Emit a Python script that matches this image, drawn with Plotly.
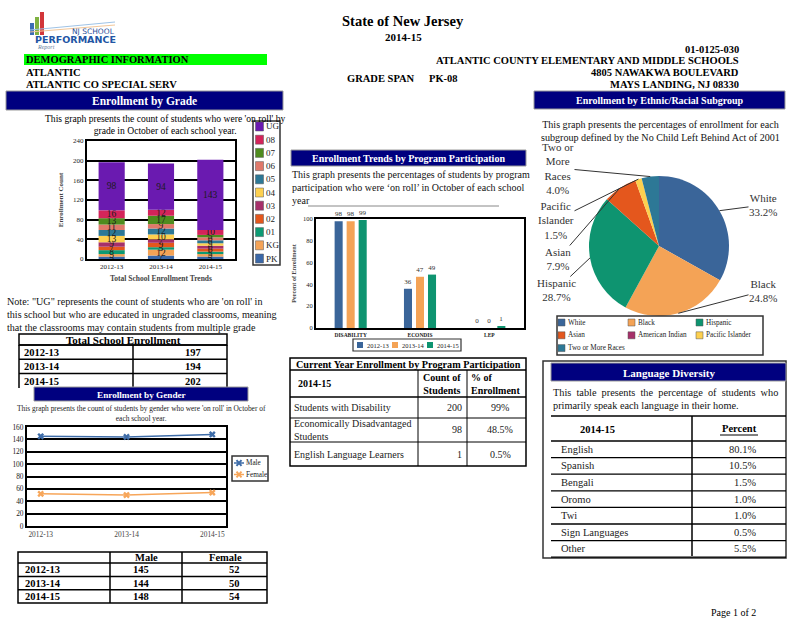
import plotly.graph_objects as go
import numpy as np

W, H = 800, 618
SERIF = "Liberation Serif"
NAVY = "#00007F"

# ---------------- data ----------------
years = ["2012-13", "2013-14", "2014-15"]

grade_names = ["PK", "KG", "01", "02", "03", "04", "05", "06", "07", "08", "UG"]
grade_colors = ["#3B68A8", "#F4A356", "#0E9A73", "#E4571D", "#A6306A", "#FDD04F",
                "#2D7896", "#E0796A", "#4F8B1E", "#D4245A", "#6A1AB0"]
pk = [5, 7, 5]
kg = [5, 12, 5]
g01 = [8, 5, 5]
g02 = [7, 9, 6]
g03 = [9, 7, 6]
g04 = [13, 10, 5]
g05 = [12, 12, 6]
g06 = [11, 9, 6]
g07 = [13, 17, 5]
g08 = [16, 12, 10]
ug = [98, 94, 143]

total_enrollment = [197, 194, 202]

programs = ["DISABILITY", "ECONDIS", "LEP"]
prog_2012 = [98, 36, 0]
prog_2013 = [98, 47, 0]
prog_2014 = [99, 49, 1]
year_colors = ["#3A6599", "#F4A356", "#0E9470"]

male = [145, 144, 148]
female = [52, 50, 54]
gender_names = ["Male", "Female"]
gender_colors = ["#3E6CA8", "#F7A65A"]

ethnic_labels = ["White", "Black", "Hispanic", "Asian", "American Indian",
                 "Pacific Islander", "Two or More Races"]
ethnic_pct = [33.2, 24.8, 28.7, 7.9, 0.0, 1.5, 4.0]
ethnic_colors = ["#3A6599", "#F4A356", "#0E9470", "#E4571D", "#A6306A", "#FDD04F", "#2D7896"]
ethnic_label_text = ["White", "Black", "Hispanic", "Asian", "",
                     "Pacific<br>Islander", "Two or<br>More<br>Races"]

program_rows = ["Students with Disability", "Economically Disadvantaged<br>Students",
                "English Language Learners"]
program_counts = [200, 98, 1]
program_pcts = ["99%", "48.5%", "0.5%"]

languages = ["English", "Spanish", "Bengali", "Oromo", "Twi", "Sign Languages", "Other"]
language_pcts = ["80.1%", "10.5%", "1.5%", "1.0%", "1.0%", "0.5%", "5.5%"]

# ---------------- helpers ----------------
shapes = []
annotations = []


def X(p):
    return p / W


def Y(p):
    return 1 - p / H


def rect(x0, y0, x1, y1, fill=None, line_color=None, lw=0, layer="above"):
    shapes.append(dict(type="rect", xref="paper", yref="paper",
                       x0=X(x0), x1=X(x1), y0=Y(y1), y1=Y(y0),
                       fillcolor=fill if fill else "rgba(0,0,0,0)",
                       line=dict(color=line_color or "rgba(0,0,0,0)", width=lw),
                       layer=layer))


def line(x0, y0, x1, y1, color="black", lw=1.5):
    shapes.append(dict(type="line", xref="paper", yref="paper",
                       x0=X(x0), y0=Y(y0), x1=X(x1), y1=Y(y1),
                       line=dict(color=color, width=lw), layer="above"))


def text(x, y, s, size=10.5, bold=False, color="black", anchor="left",
         family=SERIF, italic=False):
    if bold:
        s = f"<b>{s}</b>"
    if italic:
        s = f"<i>{s}</i>"
    annotations.append(dict(x=X(x), y=Y(y), xref="paper", yref="paper", text=s,
                            showarrow=False, xanchor=anchor, yanchor="middle",
                            font=dict(family=family, size=size, color=color),
                            align=anchor if anchor in ("left", "right") else "center",
                            borderpad=0))


def navy_header(x0, y0, x1, y1, s, size):
    rect(x0, y0, x1, y1, fill=NAVY, line_color="#9a9a9a", lw=1)
    text((x0 + x1) / 2, (y0 + y1) / 2 + 0.5, s, size=size, bold=True, color="white", anchor="center")


# ---------------- traces ----------------
fig = go.Figure()

grade_series = [pk, kg, g01, g02, g03, g04, g05, g06, g07, g08, ug]
base = np.zeros(len(years))
for name, col, vals in zip(grade_names, grade_colors, grade_series):
    fig.add_trace(go.Bar(
        x=years, y=vals, base=base.tolist(), name=name,
        marker=dict(color=col, line=dict(width=0)),
        text=vals, textposition="inside", insidetextanchor="middle", textangle=0,
        constraintext="none",
        insidetextfont=dict(family=SERIF, size=9.5, color="#1a1a1a"),
        offsetgroup="grade", width=0.53, xaxis="x", yaxis="y", showlegend=False))
    base = base + np.array(vals)

for yr, col, vals in zip(years, year_colors, [prog_2012, prog_2013, prog_2014]):
    fig.add_trace(go.Bar(
        x=programs, y=vals, name=yr, marker=dict(color=col, line=dict(width=0)),
        text=vals, textposition="outside", constraintext="none",
        textfont=dict(family=SERIF, size=7, color="#333"),
        xaxis="x2", yaxis="y2", showlegend=False, cliponaxis=False))

for nm, col, vals in zip(gender_names, gender_colors, [male, female]):
    fig.add_trace(go.Scatter(
        x=years, y=vals, name=nm, mode="lines+markers",
        line=dict(color=col, width=1.5),
        marker=dict(symbol="x", size=6, color=col),
        xaxis="x3", yaxis="y3", showlegend=False))

PIE_X0, PIE_X1, PIE_Y0, PIE_Y1 = 589, 729, 176, 316
fig.add_trace(go.Pie(
    labels=ethnic_labels, values=ethnic_pct, sort=False, direction="clockwise",
    rotation=0, textinfo="none", marker=dict(colors=ethnic_colors, line=dict(width=0)),
    domain=dict(x=[X(PIE_X0), X(PIE_X1)], y=[Y(PIE_Y1), Y(PIE_Y0)]),
    showlegend=False))

# ---------------- header ----------------
# logo
rect(30, 23, 34, 35, fill="#3B6DB5")
rect(35, 17, 39, 35, fill="#7FB241")
rect(40, 12, 44, 35, fill="#D2363A")
line(30, 30, 115, 22, color="#9fc3e6", lw=1)
line(30, 32, 115, 25, color="#f2c79a", lw=1)
text(93, 31, "NJ SCHOOL", size=7.5, color="#1F4E9A", anchor="center", family="DejaVu Sans")
text(75, 39.5, "PERFORMANCE", size=9.5, bold=True, color="#2255A4", anchor="center", family="DejaVu Sans")
text(36, 47, "Report", size=6, color="#6a7fa0", italic=True)

text(403, 21, "State of New Jersey", size=14.5, bold=True, anchor="center")
text(403, 37, "2014-15", size=11, bold=True, anchor="center")

rect(24, 54, 267, 65, fill="#00FF00")
text(25, 60, "DEMOGRAPHIC INFORMATION", size=10.5, bold=True)
text(25, 72.5, "ATLANTIC", size=10.5, bold=True)
text(25, 85, "ATLANTIC CO SPECIAL SERV", size=10.5, bold=True)
text(346, 78.5, "GRADE SPAN", size=10.5, bold=True)
text(428, 78.5, "PK-08", size=10.5, bold=True)
text(740, 49, "01-0125-030", size=10.5, bold=True, anchor="right")
text(740, 61, "ATLANTIC COUNTY ELEMENTARY AND MIDDLE SCHOOLS", size=10.5, bold=True, anchor="right")
text(740, 73, "4805 NAWAKWA BOULEVARD", size=10.5, bold=True, anchor="right")
text(740, 85, "MAYS LANDING, NJ 08330", size=10.5, bold=True, anchor="right")

navy_header(6, 91, 283, 110, "Enrollment by Grade", 11.5)
navy_header(534, 91, 785, 109, "Enrollment by Ethnic/Racial Subgroup", 10)

# ---------------- grade chart extras ----------------
text(165, 124, "This graph presents the count of students who were 'on roll' by<br>grade in October of each school year.",
     size=9.6, anchor="center")
# manual legend (UG on top)
rect(253, 121, 280, 265, fill="white", line_color="#333", lw=1.5)
for i, (name, col) in enumerate(zip(grade_names[::-1], grade_colors[::-1])):
    yc = 126.5 + i * 13.2
    rect(255.5, yc - 4.5, 263.5, yc + 4.5, fill=col, line_color="#555", lw=0.5)
    text(265, yc, name, size=9, color="#222")

text(6, 314, "Note: \"UG\" represents the count of students who are 'on roll' in<br>"
             "this school but who are educated in ungraded classrooms, meaning<br>"
             "that the classrooms may contain students from multiple grade",
     size=10.1, color="#111")

# Total school enrollment table
TX0, TX1, TXM = 19, 227, 133
rect(TX0, 334, TX1, 345, line_color="black", lw=1.5)
text((TX0 + TX1) / 2, 340, "Total School Enrollment", size=11, bold=True, anchor="center")
row_top = 345
for i, (yr, tot) in enumerate(zip(years, total_enrollment)):
    y0 = row_top + i * 14.3
    y1 = y0 + 14.3
    line(TX0, y0, TX1, y0)
    text(23, (y0 + y1) / 2 + 0.5, yr, size=10.5, bold=True)
    text(193, (y0 + y1) / 2 + 0.5, str(tot), size=10.5, bold=True, anchor="center")
line(TX0, 345, TX0, 388)
line(TX1, 345, TX1, 388)
line(TXM, 345, TXM, 388)

# ---------------- gender ----------------
navy_header(34, 387, 248, 401, "Enrollment by Gender", 9.2)
text(141, 413.5, "This graph presents the count of students by gender who were 'on roll' in October of<br>each school year.",
     size=7.4, anchor="center", color="#222")
rect(232, 456, 268, 481, fill="white", line_color="#333", lw=1.5)
for i, (nm, col) in enumerate(zip(gender_names, gender_colors)):
    yc = 463 + i * 11.5
    line(234, yc, 244, yc, color=col, lw=1.5)
    line(236.5, yc - 2.8, 241.5, yc + 2.8, color=col, lw=2)
    line(236.5, yc + 2.8, 241.5, yc - 2.8, color=col, lw=2)
    text(245, yc, nm, size=7.2, color="#222")

GX = [18, 110, 182, 267]
rect(GX[0], 552, GX[3], 603, line_color="black", lw=1.5)
for xx in GX[1:3]:
    line(xx, 552, xx, 603)
text(146, 557.5, "Male", size=10.5, bold=True, anchor="center")
text(226, 557.5, "Female", size=10.5, bold=True, anchor="center")
for i, (yr, m, f) in enumerate(zip(years, male, female)):
    y0 = 563 + i * 13.4
    line(GX[0], y0, GX[3], y0)
    text(24, y0 + 6.9, yr, size=10.5, bold=True)
    text(141, y0 + 6.9, str(m), size=10.5, bold=True, anchor="center")
    text(234, y0 + 6.9, str(f), size=10.5, bold=True, anchor="center")

# ---------------- program participation ----------------
navy_header(291, 150, 526, 166, "Enrollment Trends by Program Participation", 10)
text(291, 187, "This graph presents the percentages of students by program<br>"
               "participation who were \u2018on roll\u2019 in October of each school<br>year",
     size=10.0, color="#111")
line(308, 206, 499, 206, color="#888", lw=1)
rect(353, 339, 461, 351, fill="white", line_color="#333", lw=1.2)
for i, (yr, col) in enumerate(zip(years, year_colors)):
    x0 = 357 + i * 35
    rect(x0, 342, x0 + 6, 348, fill=col)
    text(x0 + 9, 345, yr, size=6.5, color="#222")

# current year table
PX = [290, 418, 467, 526]
rect(PX[0], 358, PX[3], 466, line_color="black", lw=1.5)
text((PX[0] + PX[3]) / 2, 364, "Current Year Enrollment by Program Participation", size=10.2, bold=True, anchor="center")
line(PX[0], 370, PX[3], 370)
line(PX[0], 397, PX[3], 397)
for xx in PX[1:3]:
    line(xx, 370, xx, 466, lw=1)
text(297, 384, "2014-15", size=10, bold=True)
text(462, 384, "Count of<br>Students", size=10, bold=True, anchor="right")
text(470, 384, "% of<br>Enrollment", size=10, bold=True)
row_edges = [397, 418, 442, 466]
for i, (nm, c, p) in enumerate(zip(program_rows, program_counts, program_pcts)):
    y0, y1 = row_edges[i], row_edges[i + 1]
    if i > 0:
        line(PX[0], y0, PX[3], y0, lw=1)
    text(293, (y0 + y1) / 2, nm, size=10, color="#222")
    text(463, (y0 + y1) / 2, str(c), size=10, color="#222", anchor="right")
    text(500, (y0 + y1) / 2, p, size=10, color="#222", anchor="center")

# ---------------- ethnic pie extras ----------------
text(660, 131, "This graph presents the percentages of enrollment for each<br>"
               "subgroup defined by the No Child Left Behind Act of 2001",
     size=10.1, anchor="center", color="#111")
cx, cy = (PIE_X0 + PIE_X1) / 2, (PIE_Y0 + PIE_Y1) / 2
r = (PIE_X1 - PIE_X0) / 2
mid = np.cumsum(ethnic_pct) - np.array(ethnic_pct) / 2
theta = np.deg2rad(mid / np.sum(ethnic_pct) * 360)
label_xy = {"White": (763, 205), "Black": (763, 291), "Hispanic": (556, 290),
            "Asian": (558, 259), "Pacific Islander": (556, 220), "Two or More Races": (558, 168)}
for lbl, txt, t, pct in zip(ethnic_labels, ethnic_label_text, theta, ethnic_pct):
    if pct == 0:
        continue
    hx = cx + r * np.sin(t)
    hy = cy - r * np.cos(t)
    lx, ly = label_xy[lbl]
    annotations.append(dict(x=X(hx), y=Y(hy), xref="paper", yref="paper",
                            text=f"{txt}<br>{pct:.1f}%", showarrow=True, arrowhead=0,
                            arrowwidth=1, arrowcolor="#333", ax=lx - hx, ay=ly - hy,
                            font=dict(family=SERIF, size=11, color="#333"), align="center",
                            borderpad=0))
rect(557, 316, 763, 355, fill="white", line_color="#333", lw=1.5)
col_x = [558, 628, 696]
for i, (lbl, col) in enumerate(zip(ethnic_labels, ethnic_colors)):
    xx = col_x[i % 3]
    yc = 322.5 + (i // 3) * 12.8
    rect(xx, yc - 3.5, xx + 7, yc + 3.5, fill=col, line_color="#555", lw=0.5)
    text(xx + 9, yc, lbl, size=7.2, color="#222")

# ---------------- language diversity ----------------
rect(543, 361, 786, 558, line_color="#333", lw=1.5, layer="below")
navy_header(551, 363, 786, 381, "Language Diversity", 11)
text(552, 399, "This  table  presents  the  percentage  of  students  who<br>"
               "primarily speak each language in their home.",
     size=10.3, color="#111")
line(551, 416, 786, 416)
line(692, 416, 692, 556)
text(597, 429, "2014-15", size=10.5, bold=True, anchor="center")
text(739, 428, "Percent", size=10.5, bold=True, anchor="center")
line(720, 435, 758, 435, lw=1)
lang_top = 441
for i, (lg, p) in enumerate(zip(languages, language_pcts)):
    y0 = lang_top + i * 16.6
    line(551, y0, 786, y0, lw=1.3)
    text(560, y0 + 8.3, lg, size=10.5, color="#222")
    text(757, y0 + 8.3, p, size=10.5, color="#222", anchor="right")
line(551, lang_top + 7 * 16.6, 786, lang_top + 7 * 16.6, lw=1.3)

text(733, 612, "Page 1 of 2", size=10, anchor="center")

# ---------------- layout ----------------
axis_line = dict(showline=True, mirror=True, linecolor="black", linewidth=2,
                 ticks="", zeroline=False, automargin=False, fixedrange=True)
tick7 = dict(family=SERIF, size=7, color="#222")

fig.update_layout(
    template="none",
    width=W, height=H, margin=dict(l=0, r=0, t=0, b=0),
    paper_bgcolor="white", plot_bgcolor="white",
    font=dict(family=SERIF),
    barmode="group", bargap=0.48, bargroupgap=0.33,
    showlegend=False,
    xaxis=dict(domain=[X(87), X(235)], anchor="y", type="category", showgrid=False,
               tickfont=tick7,
               title=dict(text="<b>Total School Enrollment Trends</b>",
                          font=dict(family=SERIF, size=7.5), standoff=5),
               **axis_line),
    yaxis=dict(domain=[Y(259), Y(141)], anchor="x", range=[0, 240], dtick=40,
               showgrid=True, gridcolor="black", gridwidth=2, tickfont=tick7,
               title=dict(text="<b>Enrollment Count</b>", font=dict(family=SERIF, size=7), standoff=9),
               **axis_line),
    xaxis2=dict(domain=[X(316), X(524)], anchor="y2", type="category", showgrid=False,
                tickmode="array", tickvals=programs, ticktext=[f"<b>{p}</b>" for p in programs],
                tickfont=dict(family=SERIF, size=5.5, color="#222"), **axis_line),
    yaxis2=dict(domain=[Y(328), Y(219)], anchor="x2", range=[0, 100], dtick=20,
                showgrid=False, tickfont=dict(family=SERIF, size=6.5, color="#222"),
                title=dict(text="<b>Percent of Enrollment</b>", font=dict(family=SERIF, size=6.2), standoff=6),
                **axis_line),
    xaxis3=dict(domain=[X(27), X(226)], anchor="y3", type="category", showgrid=False,
                tickfont=dict(family=SERIF, size=7.4, color="#444"), **axis_line),
    yaxis3=dict(domain=[Y(526), Y(427)], anchor="x3", range=[0, 160], dtick=20,
                showgrid=True, gridcolor="black", gridwidth=2,
                tickfont=dict(family=SERIF, size=7.4, color="#222"), **axis_line),
    shapes=shapes,
    annotations=annotations,
)

fig.write_html("out.html", config={"displayModeBar": False},
               post_script="document.body.style.margin='0';document.body.style.overflow='hidden';")
